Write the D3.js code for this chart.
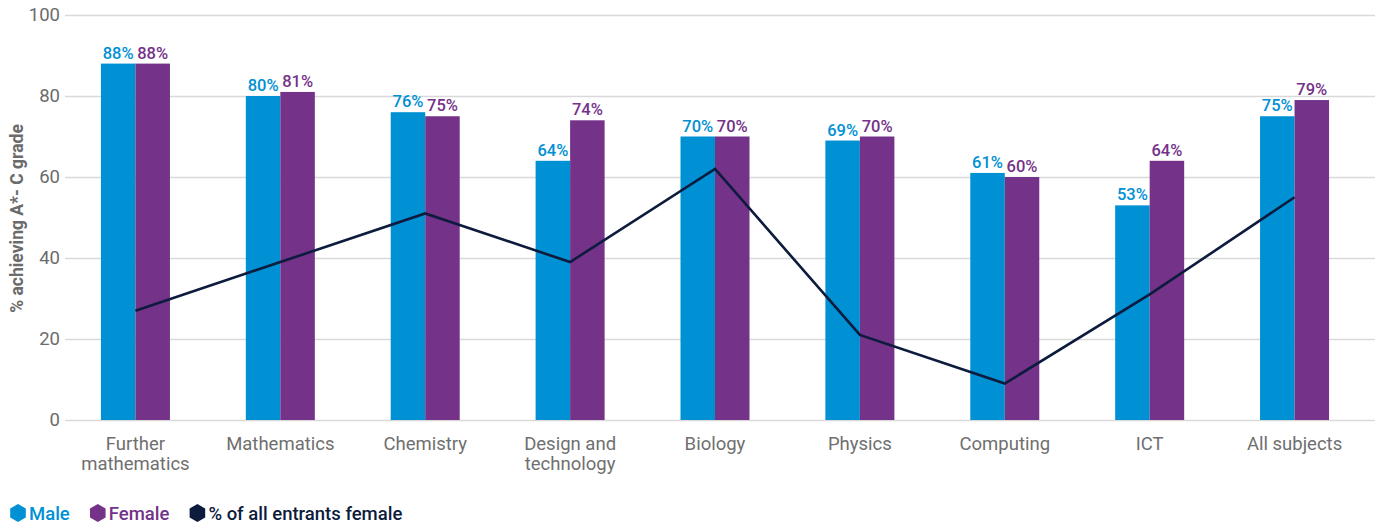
<!DOCTYPE html>
<html>
<head>
<meta charset="utf-8">
<script src="https://cdn.jsdelivr.net/npm/d3@7"></script>
<style>
  html, body { margin: 0; padding: 0; background: #fff; }
  svg { display: block; font-family: Roboto, "Noto Sans", sans-serif; }
</style>
</head>
<body>
<svg id="chart" width="1375" height="526"></svg>
<script>
// Subjects shown along the x axis (multi-line labels split on "\n")
const categories = [
  "Further\nmathematics", "Mathematics", "Chemistry", "Design and\ntechnology",
  "Biology", "Physics", "Computing", "ICT", "All subjects"
];
// % achieving A*-C grade
const maleValues   = [88, 80, 76, 64, 70, 69, 61, 53, 75];
const femaleValues = [88, 81, 75, 74, 70, 70, 60, 64, 79];
// % of all entrants who are female
const femaleShare  = [27, 39, 51, 39, 62, 21, 9, 31, 55];
const yTicks = [0, 20, 40, 60, 80, 100];

const colors = { male: "#0090d4", female: "#743289", line: "#0d1b3d" };

const svg = d3.select("#chart");
const margin = { top: 15, right: 7, bottom: 106, left: 63 };
const width = 1375, height = 526;
const plotBottom = height - margin.bottom; // y of the zero line
const plotTop = margin.top;

const x = d3.scaleBand()
  .domain(categories)
  .range([margin.left, width - margin.right - 1])
  .paddingInner(0)
  .paddingOuter(0);

const y = d3.scaleLinear().domain([0, 100]).range([plotBottom, plotTop]);

const barW = 34.5;
const sub = d3.scaleBand().domain(["male", "female"]).range([-barW, barW]);

// Horizontal gridlines and y tick labels
const yAxis = d3.axisLeft(y).tickValues(yTicks).tickSize(-(width - margin.left)).tickPadding(5);
const gy = svg.append("g").attr("transform", `translate(${margin.left + 2},0)`).call(yAxis);
gy.select(".domain").remove();
gy.selectAll(".tick line").attr("stroke", "#d9d9d9").attr("stroke-width", 1.5);
gy.selectAll(".tick text")
  .attr("fill", "#6b6b6b")
  .attr("font-size", 18.5)
  .attr("font-family", "Roboto, sans-serif");

// Y axis title
svg.append("text")
  .attr("transform", `translate(23,${(plotTop + plotBottom) / 2 + 1}) rotate(-90)`)
  .attr("text-anchor", "middle")
  .attr("fill", "#6b6b6b")
  .attr("font-size", 17.5)
  .attr("font-weight", 700)
  .text("% achieving A*- C grade");

// Bars
const data = categories.map((c, i) => ({ cat: c, male: maleValues[i], female: femaleValues[i], share: femaleShare[i] }));
const groups = svg.append("g").selectAll("g").data(data).join("g")
  .attr("transform", d => `translate(${x(d.cat) + x.bandwidth() / 2},0)`);

["male", "female"].forEach(k => {
  groups.append("rect")
    .attr("x", sub(k))
    .attr("width", sub.bandwidth())
    .attr("y", d => y(d[k]))
    .attr("height", d => y(0) - y(d[k]))
    .attr("fill", colors[k]);
  groups.append("text")
    .attr("x", sub(k) + sub.bandwidth() / 2)
    .attr("y", d => y(d[k]) - 5)
    .attr("text-anchor", "middle")
    .attr("fill", colors[k])
    .attr("font-size", 16.5)
    .attr("font-weight", 500)
    .text(d => d[k] + "%");
});

// Category labels
const xl = svg.append("g").selectAll("text").data(categories).join("text")
  .attr("x", d => x(d) + x.bandwidth() / 2)
  .attr("y", plotBottom + 30)
  .attr("text-anchor", "middle")
  .attr("fill", "#6f6f6f")
  .attr("font-size", 18.5);
xl.each(function(d) {
  const t = d3.select(this);
  d.split("\n").forEach((line, i) => {
    t.append("tspan").attr("x", x(d) + x.bandwidth() / 2).attr("dy", i === 0 ? 0 : 20).text(line);
  });
});

// Female share line
const line = d3.line()
  .x(d => x(d.cat) + x.bandwidth() / 2)
  .y(d => y(d.share));
svg.append("path")
  .datum(data)
  .attr("d", line)
  .attr("fill", "none")
  .attr("stroke", colors.line)
  .attr("stroke-width", 2.6)
  .attr("stroke-linejoin", "miter");

// Legend with hexagon markers
const legendItems = [
  { label: "Male", color: colors.male },
  { label: "Female", color: colors.female },
  { label: "% of all entrants female", color: colors.line }
];
const hex = r => d3.range(6).map(i => {
  const a = Math.PI / 3 * i - Math.PI / 2;
  return [r * Math.cos(a), r * Math.sin(a)];
});
const legend = svg.append("g").attr("transform", `translate(0,${height - 6})`);
let lx = 18;
legendItems.forEach(item => {
  const g = legend.append("g").attr("transform", `translate(${lx},0)`);
  g.append("polygon")
    .attr("points", hex(9).map(p => p.join(",")).join(" "))
    .attr("transform", "translate(0,-7)")
    .attr("fill", item.color);
  const t = g.append("text")
    .attr("x", 11)
    .attr("y", 0)
    .attr("fill", item.color)
    .attr("font-size", 18.5)
    .attr("font-weight", 500)
    .text(item.label);
  lx += 11 + t.node().getComputedTextLength() + 28;
});
</script>
</body>
</html>
